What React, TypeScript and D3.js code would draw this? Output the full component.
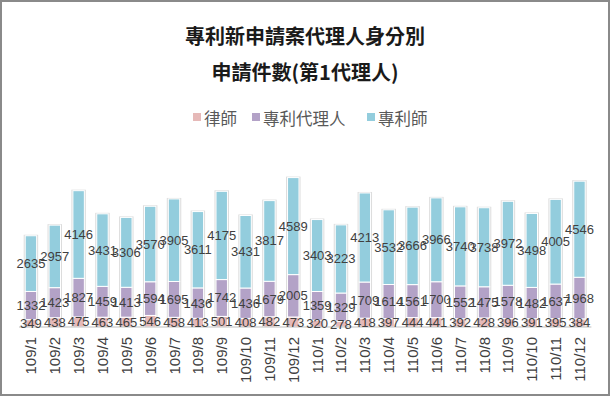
import React from "react";
import * as d3 from "d3";

const categories = ["109/1","109/2","109/3","109/4","109/5","109/6","109/7","109/8","109/9","109/10","109/11","109/12","110/1","110/2","110/3","110/4","110/5","110/6","110/7","110/8","110/9","110/10","110/11","110/12"];
const lawyer = [349,438,475,463,465,546,458,413,501,408,482,473,320,278,418,397,444,441,392,428,396,391,395,384];
const agent = [1332,1423,1827,1459,1413,1594,1695,1436,1742,1436,1679,2005,1359,1329,1709,1614,1561,1700,1552,1475,1578,1482,1637,1968];
const attorney = [2635,2957,4146,3431,3306,3570,3905,3611,4175,3431,3817,4589,3403,3223,4213,3532,3666,3966,3740,3738,3972,3498,4005,4546];
const seriesNames = ["律師","專利代理人","專利師"];
const seriesColors = ["#E6B9B8","#B3A2C7","#93CDDD"];
const titleLines = ["專利新申請案代理人身分別","申請件數(第1代理人)"];

const W = 611, H = 398;
const baseY = 327;
const numFont = "'Liberation Sans', 'Noto Sans CJK TC', sans-serif";
const cjkFont = "'Noto Sans CJK TC', 'Noto Sans', sans-serif";

export default function App() {
  const rows = categories.map((c, i) => ({ cat: c, a: lawyer[i], b: agent[i], c2: attorney[i] }));
  const keys = ["a", "b", "c2"];
  const stacked = d3.stack<any>().keys(keys)(rows);
  const x = d3.scaleBand().domain(categories).range([19, 591.4]).paddingInner(0.52).paddingOuter(0.26);
  const y = d3.scaleLinear().domain([0, 8000]).range([baseY, baseY - 8000 / 47.3]);
  const bw = x.bandwidth();

  const legendItems = [
    { name: seriesNames[0], color: seriesColors[0], x: 193 },
    { name: seriesNames[1], color: seriesColors[1], x: 252 },
    { name: seriesNames[2], color: seriesColors[2], x: 367 },
  ];

  return (
    <svg width={W} height={H} style={{ position: "absolute", left: 0, top: 0, background: "#fff" }}>
      <rect x={1} y={1} width={W - 3} height={H - 4} fill="#fff" stroke="#8a8a8a" strokeWidth={2} />
      {titleLines.map((t, i) => (
        <text key={i} x={305} y={35 + i * 36} textAnchor="middle" dominantBaseline="central"
          fontFamily={cjkFont} fontSize={20} fontWeight={600} fill="#1a1a1a">{t}</text>
      ))}
      {legendItems.map((l, i) => (
        <g key={i}>
          <rect x={l.x} y={113} width={8} height={8} fill={l.color} />
          <text x={l.x + 11} y={117.5} dominantBaseline="central" fontFamily={cjkFont} fontSize={16.5} fill="#595959">{l.name}</text>
        </g>
      ))}
      {rows.map((r, i) => {
        const top = y(r.a + r.b + r.c2);
        return (
          <rect key={"sh" + i} x={(x(r.cat) as number) - 1.5} y={top - 1} width={bw + 3} height={baseY - top + 1} fill="#dcdcdc" />
        );
      })}
      {stacked.map((s, si) => (
        <g key={si}>
          {s.map((d: any, i: number) => (
            <rect key={i} x={x(categories[i]) as number} y={y(d[1])} width={bw} height={y(d[0]) - y(d[1])}
              fill={seriesColors[si]} stroke="#fff" strokeWidth={1} />
          ))}
        </g>
      ))}
      <line x1={19} x2={591.4} y1={baseY} y2={baseY} stroke="#bfbfbf" strokeWidth={1} />
      {stacked.map((s, si) => (
        <g key={"l" + si}>
          {s.map((d: any, i: number) => (
            <text key={i} x={(x(categories[i]) as number) + bw / 2} y={(y(d[0]) + y(d[1])) / 2}
              textAnchor="middle" dominantBaseline="central" fontFamily={numFont} fontSize={13} fill="#404040">
              {d[1] - d[0]}
            </text>
          ))}
        </g>
      ))}
      {categories.map((c, i) => (
        <text key={c} transform={`translate(${(x(c) as number) + bw / 2},337) rotate(-90)`}
          textAnchor="end" dominantBaseline="central" fontFamily={numFont} fontSize={15} fill="#404040">{c}</text>
      ))}
    </svg>
  );
}
